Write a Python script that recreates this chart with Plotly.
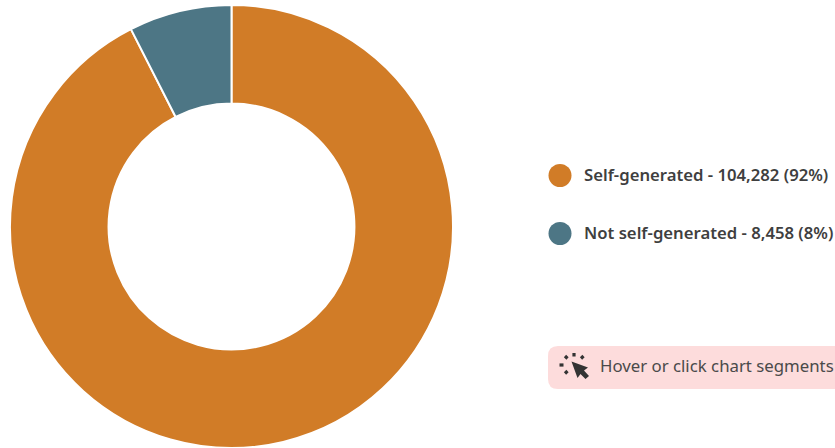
import plotly.graph_objects as go

categories = ["Self-generated", "Not self-generated"]
values = [104282, 8458]
percents = ["92%", "8%"]
colors = ["#D17C27", "#4D7685"]
hint = "Hover or click chart segments"

W, H = 835, 448
fx = lambda x: x / W
fy = lambda y: 1 - y / H

fig = go.Figure(go.Pie(
    labels=categories, values=values, hole=0.555, sort=False, direction="clockwise",
    rotation=0, textinfo="none", showlegend=False,
    marker=dict(colors=colors, line=dict(color="#ffffff", width=2)),
    domain=dict(x=[fx(10), fx(453)], y=[0, fy(5)]),
))

shapes = []
annotations = []
font = "Noto Sans"
for i, yc in enumerate([175.5, 233.5]):
    shapes.append(dict(type="circle", xref="paper", yref="paper",
                       x0=fx(548.5), x1=fx(571.5), y0=fy(yc + 11.5), y1=fy(yc - 11.5),
                       fillcolor=colors[i], line_width=0))
    annotations.append(dict(
        text=f"{categories[i]} - {values[i]:,} ({percents[i]})",
        xref="paper", yref="paper", x=fx(581.5), y=fy(yc - 1), xanchor="left", yanchor="middle",
        showarrow=False, font=dict(family=font, size=16.7, color="#3f3f3f", weight=600)))

# hint box (runs off the right edge)
x0, x1, y0, y1, r = fx(548), fx(860), fy(346), fy(389), 10
rx, ry = r / W, r / H
shapes.append(dict(type="path", xref="paper", yref="paper", fillcolor="#FDDCDC", line_width=0,
    path=f"M {x0+rx} {y0} L {x1-rx} {y0} Q {x1} {y0} {x1} {y0-ry} L {x1} {y1+ry} Q {x1} {y1} {x1-rx} {y1} "
         f"L {x0+rx} {y1} Q {x0} {y1} {x0} {y1+ry} L {x0} {y0-ry} Q {x0} {y0} {x0+rx} {y0} Z"))
annotations.append(dict(text=hint, xref="paper", yref="paper", x=fx(598), y=fy(365.5),
                        xanchor="left", yanchor="middle", showarrow=False,
                        font=dict(family=font, size=16.8, color="#4a4a4a")))

# cursor glyph
def poly(points):
    return "M " + " L ".join(f"{fx(a)} {fy(b)}" for a, b in points) + " Z"
icon = "#333333"
shapes.append(dict(type="path", xref="paper", yref="paper", fillcolor=icon, line_width=0,
    path=poly([(571.5, 361.5), (588, 367.5), (584, 370.5), (589, 376), (585.5, 379), (580.5, 374), (577.5, 378)])))
for a, b, c, d in [(559.5, 365, 563.5, 365), (574, 353, 574, 356.5), (565, 356, 567.5, 358.5), (565, 373.5, 567.5, 371), (583.5, 356, 581, 358.5)]:
    shapes.append(dict(type="line", xref="paper", yref="paper", x0=fx(a), y0=fy(b), x1=fx(c), y1=fy(d),
                       line=dict(color=icon, width=3.2)))

fig.update_layout(width=W, height=H, margin=dict(l=0, r=0, t=0, b=0),
                  paper_bgcolor="#ffffff", plot_bgcolor="#ffffff",
                  shapes=shapes, annotations=annotations)
fig.write_html("out.html", config={"displayModeBar": False},
               post_script="document.body.style.margin='0';document.body.style.overflow='hidden';")
